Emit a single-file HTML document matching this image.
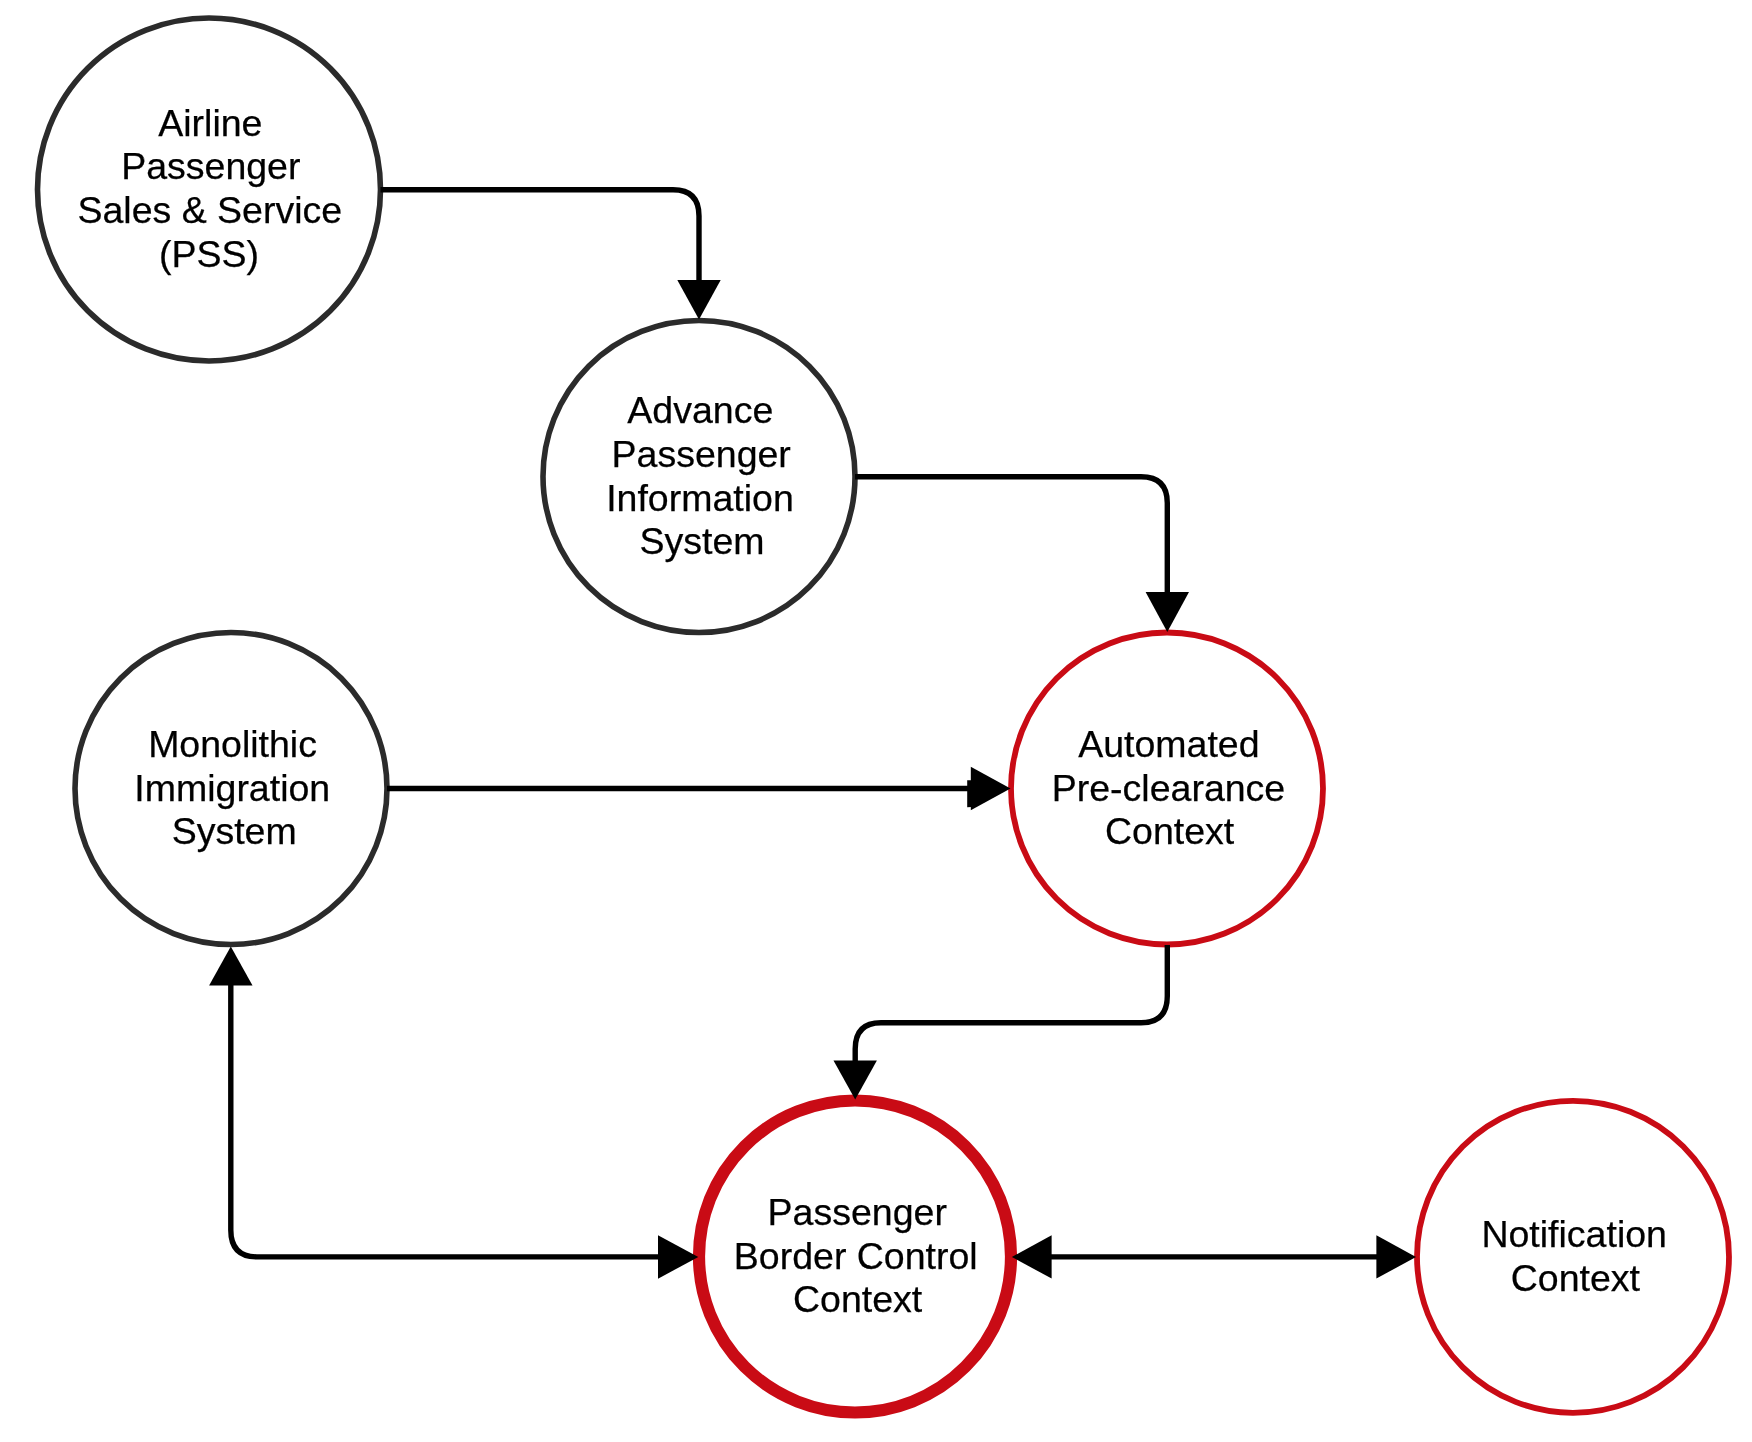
<!DOCTYPE html>
<html>
<head>
<meta charset="utf-8">
<style>
html,body{margin:0;padding:0;background:#fff;}
body{width:1752px;height:1442px;overflow:hidden;}
svg{position:absolute;left:0;top:0;will-change:transform;}
text{font-family:"Liberation Sans",sans-serif;font-size:37.5px;fill:#000;stroke:#000;stroke-width:0.25px;text-anchor:middle;}
</style>
</head>
<body>
<svg width="1752" height="1442" viewBox="0 0 1752 1442">
<rect x="0" y="0" width="1752" height="1442" fill="#fff"/>
<!-- circles -->
<g fill="none" stroke="#2b2b2b" stroke-width="5.6">
<circle cx="209" cy="189.5" r="171.5"/>
<circle cx="699" cy="476.5" r="156"/>
<circle cx="231" cy="788.5" r="156"/>
</g>
<g fill="none" stroke="#c90b15">
<circle cx="1167" cy="788.5" r="156" stroke-width="5.8"/>
<circle cx="855" cy="1256.5" r="156" stroke-width="12.2"/>
<circle cx="1573" cy="1256.8" r="156" stroke-width="5.8"/>
</g>
<!-- edges -->
<g fill="none" stroke="#000" stroke-width="5.4">
<path d="M380.5 189.8 H673 Q699 189.8 699 216 V281"/>
<path d="M855 476.8 H1141 Q1167.3 476.8 1167.3 503 V593"/>
<path d="M387 788.5 H972"/>
<path d="M1167.3 945 V996 Q1167.3 1022.8 1141 1022.8 H881 Q855.2 1022.8 855.2 1049 V1061"/>
<path d="M230.8 984 V1230 Q230.8 1256.9 257 1256.9 H659"/>
<path d="M1050.6 1256.9 H1377.4"/>
</g>
<g fill="#000" stroke="none">
<polygon points="677.3,280 720.7,280 699,319.5"/>
<polygon points="1145.6,592 1189.0,592 1167.3,632"/>
<polygon points="970.8,766.8 970.8,810.2 1010.5,788.5"/>
<polygon points="967.2,780.3 971.5,780.3 971.5,807 967.2,807.2"/>
<polygon points="833.5,1060.4 876.9,1060.4 855.2,1099.5"/>
<polygon points="209.1,985.5 252.5,985.5 230.8,946.5"/>
<polygon points="658,1235.3 658,1278.7 698.3,1257"/>
<polygon points="1051.6,1235.2 1051.6,1278.6 1011.9,1256.9"/>
<polygon points="1376.4,1235.2 1376.4,1278.6 1416,1256.9"/>
</g>
<!-- labels -->
<text x="210.35" y="136.4">Airline</text>
<text x="210.8" y="179.4">Passenger</text>
<text x="209.8" y="223">Sales &amp; Service</text>
<text x="209" y="267">(PSS)</text>

<text x="700.3" y="422.7">Advance</text>
<text x="701.2" y="466.6">Passenger</text>
<text x="699.95" y="510.6">Information</text>
<text x="702.1" y="553.9">System</text>

<text x="232.55" y="757">Monolithic</text>
<text x="232.25" y="801.2">Immigration</text>
<text x="234.15" y="844.4">System</text>

<text x="1168.85" y="756.5">Automated</text>
<text x="1168.5" y="801.2">Pre-clearance</text>
<text x="1169.65" y="844.2">Context</text>

<text x="857.25" y="1224.6">Passenger</text>
<text x="855.75" y="1269.2">Border Control</text>
<text x="857.6" y="1312.2">Context</text>

<text x="1574.2" y="1247.4">Notification</text>
<text x="1575.4" y="1291.1">Context</text>
</svg>
</body>
</html>
